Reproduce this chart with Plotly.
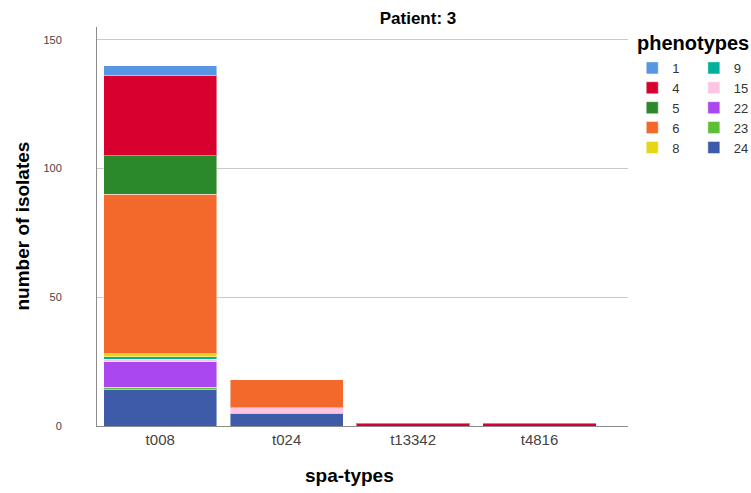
import plotly.graph_objects as go

# data
spa_types = ["t008", "t024", "t13342", "t4816"]
phenotypes = ["1", "4", "5", "6", "8", "9", "15", "22", "23", "24"]
counts_1 = [4, 0, 0, 0]
counts_4 = [31, 0, 1, 1]
counts_5 = [15, 0, 0, 0]
counts_6 = [62, 11, 0, 0]
counts_8 = [1, 0, 0, 0]
counts_9 = [1, 0, 0, 0]
counts_15 = [1, 2, 0, 0]
counts_22 = [10, 0, 0, 0]
counts_23 = [1, 0, 0, 0]
counts_24 = [14, 5, 0, 0]

counts = {"1": counts_1, "4": counts_4, "5": counts_5, "6": counts_6, "8": counts_8,
          "9": counts_9, "15": counts_15, "22": counts_22, "23": counts_23, "24": counts_24}
colors = {"1": "#5896e2", "4": "#d7002f", "5": "#2b882b", "6": "#f3692c", "8": "#e6d716",
          "9": "#00b09c", "15": "#fdc4e3", "22": "#ab47ef", "23": "#5dbf34", "24": "#3d5ba8"}

FONT = "Liberation Sans, Arial, sans-serif"

fig = go.Figure()
# stack from bottom (24) to top (1)
for ph in reversed(phenotypes):
    col = phenotypes.index(ph)
    fig.add_trace(go.Bar(
        x=spa_types, y=[v if v else None for v in counts[ph]], name=ph,
        marker=dict(color=colors[ph], line=dict(color="rgba(255,255,255,0.45)", width=1)),
        width=0.895,
        legend="legend" if col < 5 else "legend2",
        legendrank=col,
    ))

legend_style = dict(y=0.935, xanchor="left", yanchor="top", traceorder="normal",
                    font=dict(size=13, color="#333"), bgcolor="rgba(0,0,0,0)", itemclick=False)

fig.update_layout(
    width=751, height=493,
    barmode="stack",
    plot_bgcolor="white", paper_bgcolor="white",
    margin=dict(l=97, r=123, t=27, b=67, autoexpand=False),
    font=dict(family=FONT, color="#000"),
    title=dict(text="<b>Patient: 3</b>", x=0.6045, xref="paper", xanchor="center",
               y=0.963, yref="container", yanchor="middle", font=dict(size=17, color="#000")),
    xaxis=dict(type="category", range=[-0.5, 3.7], showline=True, linecolor="#8c8c8c", linewidth=1,
               showgrid=False, ticks="", tickfont=dict(size=15, color="#444")),
    yaxis=dict(range=[0, 155], tickvals=[0, 50, 100, 150], showline=True, linecolor="#8c8c8c",
               linewidth=1, gridcolor="#c9c9c9", gridwidth=1, zeroline=False, ticks="",
               ticklabelstandoff=32, tickfont=dict(size=11, color="#444")),
    showlegend=True,
    legend=dict(x=1.008, **legend_style),
    legend2=dict(x=1.124, **legend_style),
    annotations=[
        dict(text="<b>spa-types</b>", x=1.5, xref="x", y=-0.125, yref="paper", yanchor="middle",
             showarrow=False, font=dict(size=19, color="#000")),
        dict(text="<b>number of isolates</b>", x=-0.1412, xref="paper", xanchor="center",
             y=0.5, yref="paper", yanchor="middle",
             textangle=-90, showarrow=False, font=dict(size=19, color="#000")),
        dict(text="<b>phenotypes</b>", x=1.013, xref="paper", xanchor="left", y=0.96, yref="paper",
             yanchor="middle", showarrow=False, font=dict(size=20, color="#000")),
    ],
)

fig.write_html("out.html", config={"displayModeBar": False},
               post_script="document.body.style.margin='0';")
